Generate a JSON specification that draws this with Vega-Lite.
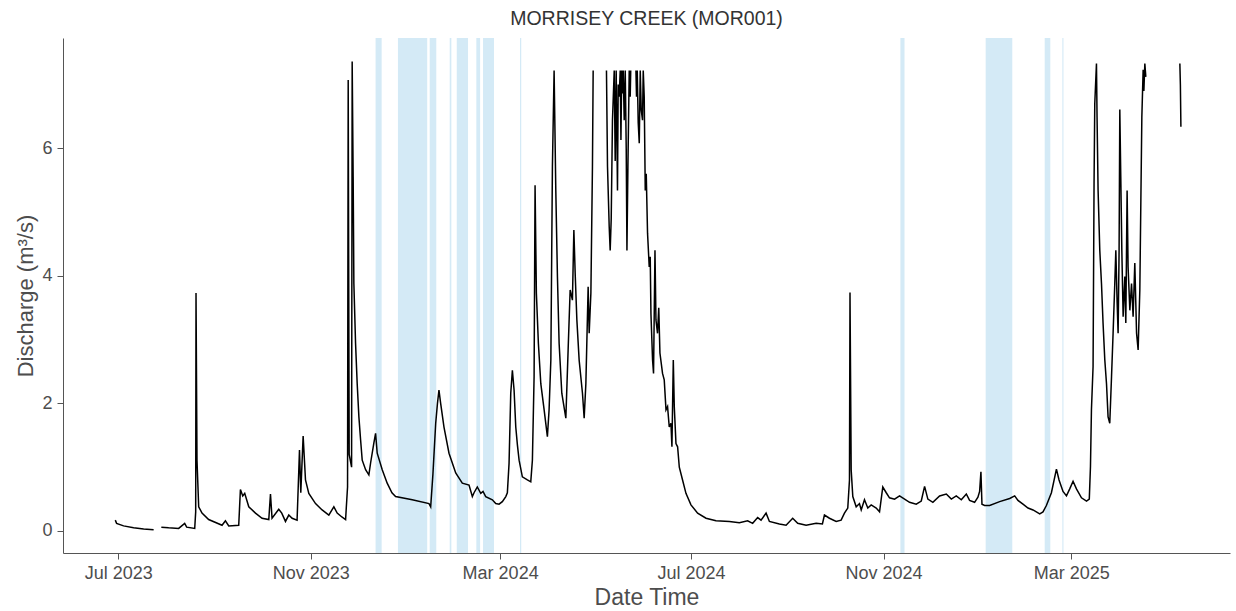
{
  "$schema": "https://vega.github.io/schema/vega-lite/v6.json",
  "width": 1167,
  "height": 515,
  "autosize": {"type": "none"},
  "padding": {"left": 63, "top": 38, "right": 6, "bottom": 58},
  "background": "white",
  "title": {"text": "MORRISEY CREEK (MOR001)", "font": "Liberation Sans", "fontSize": 19.5, "fontWeight": "normal", "color": "#333333", "anchor": "middle", "offset": 9},
  "config": {
    "view": {"stroke": null},
    "axis": {"grid": false, "domainColor": "#555555", "tickColor": "#555555", "labelColor": "#4d4d4d", "titleColor": "#4d4d4d", "labelFont": "Liberation Sans", "titleFont": "Liberation Sans", "labelFontSize": 18, "titleFontSize": 22, "titleFontWeight": "normal", "tickSize": 6, "domainWidth": 1, "tickWidth": 1, "labelPadding": 5, "titlePadding": 4},
    "axisX": {"titleFontSize": 23}
  },
  "datasets": {
    "bands": [
      {"start": "2023-12-12T10:00", "end": "2023-12-16T07:00"},
      {"start": "2023-12-26T17:00", "end": "2024-01-14T10:00"},
      {"start": "2024-01-16T00:00", "end": "2024-01-20T05:00"},
      {"start": "2024-01-28T19:00", "end": "2024-01-29T20:00"},
      {"start": "2024-02-02T07:00", "end": "2024-02-09T12:00"},
      {"start": "2024-02-14T19:00", "end": "2024-02-17T05:00"},
      {"start": "2024-02-19T02:00", "end": "2024-02-26T02:00"},
      {"start": "2024-03-13T17:00", "end": "2024-03-14T12:00"},
      {"start": "2024-11-11T19:00", "end": "2024-11-14T10:00"},
      {"start": "2025-01-05T07:00", "end": "2025-01-22T07:00"},
      {"start": "2025-02-12T00:00", "end": "2025-02-15T14:00"},
      {"start": "2025-02-23T07:00", "end": "2025-02-24T00:00"}
    ],
    "flow": [
      {"t": "2023-06-29T02:00", "q": 0.17, "s": 1},
      {"t": "2023-06-29T22:00", "q": 0.12, "s": 1},
      {"t": "2023-07-04T09:00", "q": 0.08, "s": 1},
      {"t": "2023-07-10T19:00", "q": 0.05, "s": 1},
      {"t": "2023-07-17T05:00", "q": 0.03, "s": 1},
      {"t": "2023-07-23T14:00", "q": 0.02, "s": 1},
      {"t": "2023-07-28T12:00", "q": 0.06, "s": 2},
      {"t": "2023-08-02T04:00", "q": 0.05, "s": 2},
      {"t": "2023-08-08T14:00", "q": 0.04, "s": 2},
      {"t": "2023-08-12T10:00", "q": 0.12, "s": 2},
      {"t": "2023-08-13T17:00", "q": 0.06, "s": 2},
      {"t": "2023-08-18T20:00", "q": 0.04, "s": 2},
      {"t": "2023-08-19T11:00", "q": 0.3, "s": 2},
      {"t": "2023-08-19T16:00", "q": 3.73, "s": 2},
      {"t": "2023-08-20T07:00", "q": 1.11, "s": 2},
      {"t": "2023-08-21T09:00", "q": 0.38, "s": 2},
      {"t": "2023-08-23T12:00", "q": 0.28, "s": 2},
      {"t": "2023-08-27T18:00", "q": 0.18, "s": 2},
      {"t": "2023-09-05T07:00", "q": 0.09, "s": 2},
      {"t": "2023-09-07T11:00", "q": 0.16, "s": 2},
      {"t": "2023-09-09T14:00", "q": 0.08, "s": 2},
      {"t": "2023-09-15T23:00", "q": 0.09, "s": 2},
      {"t": "2023-09-17T01:00", "q": 0.65, "s": 2},
      {"t": "2023-09-18T13:00", "q": 0.55, "s": 2},
      {"t": "2023-09-19T19:00", "q": 0.59, "s": 2},
      {"t": "2023-09-22T09:00", "q": 0.38, "s": 2},
      {"t": "2023-09-26T16:00", "q": 0.28, "s": 2},
      {"t": "2023-09-30T21:00", "q": 0.2, "s": 2},
      {"t": "2023-10-05T04:00", "q": 0.18, "s": 2},
      {"t": "2023-10-06T06:00", "q": 0.58, "s": 2},
      {"t": "2023-10-07T06:00", "q": 0.2, "s": 2},
      {"t": "2023-10-11T13:00", "q": 0.34, "s": 2},
      {"t": "2023-10-13T11:00", "q": 0.28, "s": 2},
      {"t": "2023-10-15T20:00", "q": 0.15, "s": 2},
      {"t": "2023-10-17T23:00", "q": 0.25, "s": 2},
      {"t": "2023-10-20T02:00", "q": 0.2, "s": 2},
      {"t": "2023-10-23T06:00", "q": 0.17, "s": 2},
      {"t": "2023-10-24T19:00", "q": 1.27, "s": 2},
      {"t": "2023-10-25T15:00", "q": 0.6, "s": 2},
      {"t": "2023-10-27T03:00", "q": 1.49, "s": 2},
      {"t": "2023-10-28T15:00", "q": 0.8, "s": 2},
      {"t": "2023-10-30T18:00", "q": 0.59, "s": 2},
      {"t": "2023-11-04T01:00", "q": 0.43, "s": 2},
      {"t": "2023-11-08T06:00", "q": 0.33, "s": 2},
      {"t": "2023-11-12T13:00", "q": 0.25, "s": 2},
      {"t": "2023-11-15T18:00", "q": 0.38, "s": 2},
      {"t": "2023-11-17T21:00", "q": 0.28, "s": 2},
      {"t": "2023-11-20T21:00", "q": 0.22, "s": 2},
      {"t": "2023-11-23T06:00", "q": 0.18, "s": 2},
      {"t": "2023-11-24T12:00", "q": 0.69, "s": 2},
      {"t": "2023-11-24T22:00", "q": 7.07, "s": 2},
      {"t": "2023-11-25T13:00", "q": 1.2, "s": 2},
      {"t": "2023-11-27T02:00", "q": 1.0, "s": 2},
      {"t": "2023-11-27T11:00", "q": 7.36, "s": 2},
      {"t": "2023-11-28T02:00", "q": 5.55, "s": 2},
      {"t": "2023-11-28T13:00", "q": 3.88, "s": 2},
      {"t": "2023-11-29T15:00", "q": 2.94, "s": 2},
      {"t": "2023-11-30T16:00", "q": 2.31, "s": 2},
      {"t": "2023-12-01T18:00", "q": 1.79, "s": 2},
      {"t": "2023-12-02T20:00", "q": 1.43, "s": 2},
      {"t": "2023-12-03T21:00", "q": 1.11, "s": 2},
      {"t": "2023-12-06T01:00", "q": 0.96, "s": 2},
      {"t": "2023-12-08T03:00", "q": 0.88, "s": 2},
      {"t": "2023-12-09T06:00", "q": 1.07, "s": 2},
      {"t": "2023-12-11T08:00", "q": 1.38, "s": 2},
      {"t": "2023-12-12T10:00", "q": 1.53, "s": 2},
      {"t": "2023-12-13T11:00", "q": 1.22, "s": 2},
      {"t": "2023-12-16T16:00", "q": 0.96, "s": 2},
      {"t": "2023-12-19T20:00", "q": 0.75, "s": 2},
      {"t": "2023-12-22T21:00", "q": 0.6, "s": 2},
      {"t": "2023-12-25T05:00", "q": 0.54, "s": 2},
      {"t": "2024-01-04T20:00", "q": 0.49, "s": 2},
      {"t": "2024-01-15T13:00", "q": 0.43, "s": 2},
      {"t": "2024-01-16T15:00", "q": 0.38, "s": 2},
      {"t": "2024-01-18T02:00", "q": 0.9, "s": 2},
      {"t": "2024-01-19T20:00", "q": 1.69, "s": 2},
      {"t": "2024-01-20T23:00", "q": 2.0, "s": 2},
      {"t": "2024-01-21T22:00", "q": 2.21, "s": 2},
      {"t": "2024-01-23T00:00", "q": 2.0, "s": 2},
      {"t": "2024-01-25T03:00", "q": 1.63, "s": 2},
      {"t": "2024-01-28T08:00", "q": 1.22, "s": 2},
      {"t": "2024-02-01T15:00", "q": 0.91, "s": 2},
      {"t": "2024-02-05T20:00", "q": 0.75, "s": 2},
      {"t": "2024-02-10T03:00", "q": 0.72, "s": 2},
      {"t": "2024-02-12T06:00", "q": 0.54, "s": 2},
      {"t": "2024-02-13T08:00", "q": 0.6, "s": 2},
      {"t": "2024-02-15T10:00", "q": 0.69, "s": 2},
      {"t": "2024-02-17T15:00", "q": 0.59, "s": 2},
      {"t": "2024-02-19T02:00", "q": 0.62, "s": 2},
      {"t": "2024-02-20T19:00", "q": 0.54, "s": 2},
      {"t": "2024-02-25T01:00", "q": 0.49, "s": 2},
      {"t": "2024-02-27T05:00", "q": 0.43, "s": 2},
      {"t": "2024-02-29T08:00", "q": 0.42, "s": 2},
      {"t": "2024-03-02T10:00", "q": 0.46, "s": 2},
      {"t": "2024-03-04T15:00", "q": 0.54, "s": 2},
      {"t": "2024-03-05T15:00", "q": 0.6, "s": 2},
      {"t": "2024-03-06T17:00", "q": 1.06, "s": 2},
      {"t": "2024-03-07T19:00", "q": 2.16, "s": 2},
      {"t": "2024-03-08T20:00", "q": 2.52, "s": 2},
      {"t": "2024-03-09T22:00", "q": 2.21, "s": 2},
      {"t": "2024-03-11T00:00", "q": 1.63, "s": 2},
      {"t": "2024-03-12T01:00", "q": 1.35, "s": 2},
      {"t": "2024-03-13T03:00", "q": 1.11, "s": 2},
      {"t": "2024-03-15T05:00", "q": 0.85, "s": 2},
      {"t": "2024-03-18T10:00", "q": 0.8, "s": 2},
      {"t": "2024-03-20T14:00", "q": 0.77, "s": 2},
      {"t": "2024-03-21T15:00", "q": 1.11, "s": 2},
      {"t": "2024-03-22T17:00", "q": 2.42, "s": 2},
      {"t": "2024-03-23T08:00", "q": 5.42, "s": 2},
      {"t": "2024-03-24T04:00", "q": 3.73, "s": 2},
      {"t": "2024-03-25T11:00", "q": 2.94, "s": 2},
      {"t": "2024-03-27T00:00", "q": 2.31, "s": 2},
      {"t": "2024-03-29T03:00", "q": 1.9, "s": 2},
      {"t": "2024-03-31T05:00", "q": 1.48, "s": 2},
      {"t": "2024-04-01T07:00", "q": 1.9, "s": 2},
      {"t": "2024-04-02T10:00", "q": 2.68, "s": 2},
      {"t": "2024-04-03T10:00", "q": 5.71, "s": 2},
      {"t": "2024-04-04T12:00", "q": 7.22, "s": 2},
      {"t": "2024-04-05T14:00", "q": 5.34, "s": 2},
      {"t": "2024-04-06T15:00", "q": 3.99, "s": 2},
      {"t": "2024-04-07T17:00", "q": 2.94, "s": 2},
      {"t": "2024-04-09T10:00", "q": 2.16, "s": 2},
      {"t": "2024-04-12T00:00", "q": 1.77, "s": 2},
      {"t": "2024-04-13T11:00", "q": 2.84, "s": 2},
      {"t": "2024-04-14T18:00", "q": 3.78, "s": 2},
      {"t": "2024-04-16T05:00", "q": 3.62, "s": 2},
      {"t": "2024-04-17T03:00", "q": 4.72, "s": 2},
      {"t": "2024-04-17T23:00", "q": 4.04, "s": 2},
      {"t": "2024-04-19T01:00", "q": 3.31, "s": 2},
      {"t": "2024-04-20T12:00", "q": 2.68, "s": 2},
      {"t": "2024-04-22T15:00", "q": 2.16, "s": 2},
      {"t": "2024-04-23T17:00", "q": 1.77, "s": 2},
      {"t": "2024-04-24T19:00", "q": 2.31, "s": 2},
      {"t": "2024-04-26T06:00", "q": 3.83, "s": 2},
      {"t": "2024-04-26T22:00", "q": 3.1, "s": 2},
      {"t": "2024-04-28T00:00", "q": 3.73, "s": 2},
      {"t": "2024-04-29T00:00", "q": 5.71, "s": 2},
      {"t": "2024-04-29T11:00", "q": 7.22, "s": 2},
      {"t": "2024-05-07T23:00", "q": 7.22, "s": 3},
      {"t": "2024-05-08T15:00", "q": 5.71, "s": 3},
      {"t": "2024-05-09T17:00", "q": 4.77, "s": 3},
      {"t": "2024-05-10T08:00", "q": 4.4, "s": 3},
      {"t": "2024-05-11T00:00", "q": 4.9, "s": 3},
      {"t": "2024-05-11T19:00", "q": 6.44, "s": 3},
      {"t": "2024-05-12T22:00", "q": 7.22, "s": 3},
      {"t": "2024-05-13T13:00", "q": 5.8, "s": 3},
      {"t": "2024-05-14T04:00", "q": 7.22, "s": 3},
      {"t": "2024-05-15T00:00", "q": 5.34, "s": 3},
      {"t": "2024-05-15T11:00", "q": 7.0, "s": 3},
      {"t": "2024-05-16T02:00", "q": 6.81, "s": 3},
      {"t": "2024-05-16T18:00", "q": 7.22, "s": 3},
      {"t": "2024-05-17T05:00", "q": 6.13, "s": 3},
      {"t": "2024-05-17T17:00", "q": 7.22, "s": 3},
      {"t": "2024-05-18T05:00", "q": 6.86, "s": 3},
      {"t": "2024-05-18T16:00", "q": 7.22, "s": 3},
      {"t": "2024-05-19T07:00", "q": 6.44, "s": 3},
      {"t": "2024-05-19T23:00", "q": 7.22, "s": 3},
      {"t": "2024-05-20T14:00", "q": 6.0, "s": 3},
      {"t": "2024-05-21T01:00", "q": 4.4, "s": 3},
      {"t": "2024-05-21T16:00", "q": 5.71, "s": 3},
      {"t": "2024-05-22T12:00", "q": 7.22, "s": 3},
      {"t": "2024-05-23T03:00", "q": 6.81, "s": 3},
      {"t": "2024-05-23T11:00", "q": 7.22, "s": 3},
      {"t": "2024-05-26T19:00", "q": 7.22, "s": 4},
      {"t": "2024-05-27T04:00", "q": 6.81, "s": 4},
      {"t": "2024-05-27T15:00", "q": 7.22, "s": 4},
      {"t": "2024-05-28T06:00", "q": 6.4, "s": 4},
      {"t": "2024-05-28T22:00", "q": 6.08, "s": 4},
      {"t": "2024-05-29T13:00", "q": 7.22, "s": 4},
      {"t": "2024-05-30T04:00", "q": 6.6, "s": 4},
      {"t": "2024-05-31T00:00", "q": 6.44, "s": 4},
      {"t": "2024-05-31T11:00", "q": 7.22, "s": 4},
      {"t": "2024-06-01T02:00", "q": 6.81, "s": 4},
      {"t": "2024-06-01T18:00", "q": 5.34, "s": 4},
      {"t": "2024-06-02T09:00", "q": 5.6, "s": 4},
      {"t": "2024-06-03T05:00", "q": 4.67, "s": 4},
      {"t": "2024-06-04T07:00", "q": 4.14, "s": 4},
      {"t": "2024-06-04T22:00", "q": 4.3, "s": 4},
      {"t": "2024-06-05T09:00", "q": 3.41, "s": 4},
      {"t": "2024-06-06T10:00", "q": 2.68, "s": 4},
      {"t": "2024-06-07T01:00", "q": 2.47, "s": 4},
      {"t": "2024-06-07T23:00", "q": 4.4, "s": 4},
      {"t": "2024-06-08T14:00", "q": 3.31, "s": 4},
      {"t": "2024-06-09T14:00", "q": 3.1, "s": 4},
      {"t": "2024-06-10T09:00", "q": 3.5, "s": 4},
      {"t": "2024-06-11T03:00", "q": 2.79, "s": 4},
      {"t": "2024-06-12T19:00", "q": 2.47, "s": 4},
      {"t": "2024-06-13T21:00", "q": 2.37, "s": 4},
      {"t": "2024-06-15T00:00", "q": 1.9, "s": 4},
      {"t": "2024-06-16T00:00", "q": 1.95, "s": 4},
      {"t": "2024-06-17T02:00", "q": 1.63, "s": 4},
      {"t": "2024-06-18T04:00", "q": 1.69, "s": 4},
      {"t": "2024-06-18T19:00", "q": 1.32, "s": 4},
      {"t": "2024-06-19T16:00", "q": 2.68, "s": 4},
      {"t": "2024-06-20T07:00", "q": 1.95, "s": 4},
      {"t": "2024-06-21T09:00", "q": 1.37, "s": 4},
      {"t": "2024-06-22T10:00", "q": 1.32, "s": 4},
      {"t": "2024-06-23T12:00", "q": 1.0, "s": 4},
      {"t": "2024-06-25T14:00", "q": 0.8, "s": 4},
      {"t": "2024-06-27T18:00", "q": 0.59, "s": 4},
      {"t": "2024-06-30T23:00", "q": 0.41, "s": 4},
      {"t": "2024-07-05T05:00", "q": 0.28, "s": 4},
      {"t": "2024-07-10T14:00", "q": 0.2, "s": 4},
      {"t": "2024-07-16T23:00", "q": 0.16, "s": 4},
      {"t": "2024-07-25T12:00", "q": 0.15, "s": 4},
      {"t": "2024-07-31T21:00", "q": 0.13, "s": 4},
      {"t": "2024-08-06T04:00", "q": 0.16, "s": 4},
      {"t": "2024-08-09T09:00", "q": 0.12, "s": 4},
      {"t": "2024-08-12T14:00", "q": 0.21, "s": 4},
      {"t": "2024-08-14T18:00", "q": 0.17, "s": 4},
      {"t": "2024-08-17T23:00", "q": 0.28, "s": 4},
      {"t": "2024-08-20T02:00", "q": 0.15, "s": 4},
      {"t": "2024-08-26T11:00", "q": 0.11, "s": 4},
      {"t": "2024-08-30T18:00", "q": 0.09, "s": 4},
      {"t": "2024-09-03T23:00", "q": 0.2, "s": 4},
      {"t": "2024-09-07T04:00", "q": 0.12, "s": 4},
      {"t": "2024-09-12T13:00", "q": 0.09, "s": 4},
      {"t": "2024-09-18T23:00", "q": 0.12, "s": 4},
      {"t": "2024-09-22T23:00", "q": 0.11, "s": 4},
      {"t": "2024-09-24T06:00", "q": 0.25, "s": 4},
      {"t": "2024-09-27T11:00", "q": 0.2, "s": 4},
      {"t": "2024-10-01T18:00", "q": 0.15, "s": 4},
      {"t": "2024-10-04T22:00", "q": 0.17, "s": 4},
      {"t": "2024-10-07T01:00", "q": 0.28, "s": 4},
      {"t": "2024-10-09T04:00", "q": 0.36, "s": 4},
      {"t": "2024-10-10T06:00", "q": 0.8, "s": 4},
      {"t": "2024-10-10T14:00", "q": 3.74, "s": 4},
      {"t": "2024-10-11T08:00", "q": 0.96, "s": 4},
      {"t": "2024-10-12T09:00", "q": 0.54, "s": 4},
      {"t": "2024-10-14T13:00", "q": 0.38, "s": 4},
      {"t": "2024-10-16T15:00", "q": 0.43, "s": 4},
      {"t": "2024-10-17T18:00", "q": 0.33, "s": 4},
      {"t": "2024-10-19T20:00", "q": 0.49, "s": 4},
      {"t": "2024-10-21T23:00", "q": 0.36, "s": 4},
      {"t": "2024-10-24T03:00", "q": 0.41, "s": 4},
      {"t": "2024-10-27T08:00", "q": 0.36, "s": 4},
      {"t": "2024-10-29T11:00", "q": 0.3, "s": 4},
      {"t": "2024-10-31T13:00", "q": 0.69, "s": 4},
      {"t": "2024-11-02T18:00", "q": 0.6, "s": 4},
      {"t": "2024-11-04T20:00", "q": 0.52, "s": 4},
      {"t": "2024-11-08T01:00", "q": 0.5, "s": 4},
      {"t": "2024-11-11T06:00", "q": 0.55, "s": 4},
      {"t": "2024-11-14T11:00", "q": 0.5, "s": 4},
      {"t": "2024-11-17T15:00", "q": 0.45, "s": 4},
      {"t": "2024-11-21T22:00", "q": 0.42, "s": 4},
      {"t": "2024-11-25T03:00", "q": 0.47, "s": 4},
      {"t": "2024-11-27T06:00", "q": 0.7, "s": 4},
      {"t": "2024-11-29T08:00", "q": 0.5, "s": 4},
      {"t": "2024-12-02T13:00", "q": 0.45, "s": 4},
      {"t": "2024-12-06T20:00", "q": 0.55, "s": 4},
      {"t": "2024-12-11T03:00", "q": 0.58, "s": 4},
      {"t": "2024-12-14T08:00", "q": 0.5, "s": 4},
      {"t": "2024-12-17T12:00", "q": 0.55, "s": 4},
      {"t": "2024-12-20T17:00", "q": 0.49, "s": 4},
      {"t": "2024-12-23T22:00", "q": 0.58, "s": 4},
      {"t": "2024-12-26T00:00", "q": 0.48, "s": 4},
      {"t": "2024-12-29T05:00", "q": 0.45, "s": 4},
      {"t": "2024-12-31T08:00", "q": 0.53, "s": 4},
      {"t": "2025-01-01T10:00", "q": 0.62, "s": 4},
      {"t": "2025-01-02T06:00", "q": 0.93, "s": 4},
      {"t": "2025-01-02T22:00", "q": 0.42, "s": 4},
      {"t": "2025-01-04T15:00", "q": 0.4, "s": 4},
      {"t": "2025-01-07T20:00", "q": 0.4, "s": 4},
      {"t": "2025-01-14T05:00", "q": 0.46, "s": 4},
      {"t": "2025-01-20T15:00", "q": 0.51, "s": 4},
      {"t": "2025-01-23T20:00", "q": 0.55, "s": 4},
      {"t": "2025-01-25T22:00", "q": 0.48, "s": 4},
      {"t": "2025-01-29T03:00", "q": 0.42, "s": 4},
      {"t": "2025-02-01T08:00", "q": 0.36, "s": 4},
      {"t": "2025-02-04T13:00", "q": 0.33, "s": 4},
      {"t": "2025-02-08T20:00", "q": 0.27, "s": 4},
      {"t": "2025-02-10T22:00", "q": 0.3, "s": 4},
      {"t": "2025-02-13T02:00", "q": 0.4, "s": 4},
      {"t": "2025-02-16T07:00", "q": 0.6, "s": 4},
      {"t": "2025-02-19T12:00", "q": 0.97, "s": 4},
      {"t": "2025-02-21T04:00", "q": 0.8, "s": 4},
      {"t": "2025-02-23T17:00", "q": 0.62, "s": 4},
      {"t": "2025-02-25T22:00", "q": 0.55, "s": 4},
      {"t": "2025-02-28T00:00", "q": 0.66, "s": 4},
      {"t": "2025-03-02T03:00", "q": 0.78, "s": 4},
      {"t": "2025-03-04T07:00", "q": 0.66, "s": 4},
      {"t": "2025-03-07T12:00", "q": 0.52, "s": 4},
      {"t": "2025-03-10T17:00", "q": 0.47, "s": 4},
      {"t": "2025-03-12T12:00", "q": 0.5, "s": 4},
      {"t": "2025-03-13T06:00", "q": 1.01, "s": 4},
      {"t": "2025-03-13T21:00", "q": 1.9, "s": 4},
      {"t": "2025-03-14T22:00", "q": 2.58, "s": 4},
      {"t": "2025-03-15T13:00", "q": 5.45, "s": 4},
      {"t": "2025-03-16T00:00", "q": 6.7, "s": 4},
      {"t": "2025-03-17T02:00", "q": 7.33, "s": 4},
      {"t": "2025-03-17T11:00", "q": 6.49, "s": 4},
      {"t": "2025-03-18T03:00", "q": 5.34, "s": 4},
      {"t": "2025-03-19T05:00", "q": 4.4, "s": 4},
      {"t": "2025-03-20T07:00", "q": 3.88, "s": 4},
      {"t": "2025-03-21T07:00", "q": 3.26, "s": 4},
      {"t": "2025-03-22T10:00", "q": 2.68, "s": 4},
      {"t": "2025-03-23T12:00", "q": 2.31, "s": 4},
      {"t": "2025-03-24T12:00", "q": 1.79, "s": 4},
      {"t": "2025-03-25T14:00", "q": 1.69, "s": 4},
      {"t": "2025-03-26T17:00", "q": 2.42, "s": 4},
      {"t": "2025-03-27T17:00", "q": 3.1, "s": 4},
      {"t": "2025-03-28T19:00", "q": 3.88, "s": 4},
      {"t": "2025-03-29T11:00", "q": 4.4, "s": 4},
      {"t": "2025-03-30T06:00", "q": 3.62, "s": 4},
      {"t": "2025-03-30T22:00", "q": 3.1, "s": 4},
      {"t": "2025-03-31T13:00", "q": 4.4, "s": 4},
      {"t": "2025-04-01T00:00", "q": 6.61, "s": 4},
      {"t": "2025-04-01T15:00", "q": 5.55, "s": 4},
      {"t": "2025-04-02T07:00", "q": 4.4, "s": 4},
      {"t": "2025-04-03T03:00", "q": 3.36, "s": 4},
      {"t": "2025-04-04T05:00", "q": 3.99, "s": 4},
      {"t": "2025-04-04T20:00", "q": 3.26, "s": 4},
      {"t": "2025-04-05T16:00", "q": 5.34, "s": 4},
      {"t": "2025-04-06T07:00", "q": 4.14, "s": 4},
      {"t": "2025-04-07T10:00", "q": 3.46, "s": 4},
      {"t": "2025-04-08T12:00", "q": 3.88, "s": 4},
      {"t": "2025-04-09T12:00", "q": 3.36, "s": 4},
      {"t": "2025-04-10T14:00", "q": 4.2, "s": 4},
      {"t": "2025-04-11T17:00", "q": 3.1, "s": 4},
      {"t": "2025-04-12T17:00", "q": 2.84, "s": 4},
      {"t": "2025-04-13T19:00", "q": 3.78, "s": 4},
      {"t": "2025-04-14T11:00", "q": 5.19, "s": 4},
      {"t": "2025-04-15T02:00", "q": 6.49, "s": 4},
      {"t": "2025-04-15T22:00", "q": 7.23, "s": 4},
      {"t": "2025-04-16T09:00", "q": 6.9, "s": 4},
      {"t": "2025-04-17T00:00", "q": 7.33, "s": 4},
      {"t": "2025-04-17T15:00", "q": 7.12, "s": 4},
      {"t": "2025-05-09T09:00", "q": 7.33, "s": 5},
      {"t": "2025-05-09T17:00", "q": 7.0, "s": 5},
      {"t": "2025-05-10T01:00", "q": 6.34, "s": 5}
    ]
  },
  "layer": [
    {
      "data": {"name": "bands"},
      "mark": {"type": "rect", "color": "#d4eaf6"},
      "encoding": {
        "x": {"field": "start", "type": "temporal", "title": "Date Time",
              "scale": {"domain": [{"year": 2023, "month": 5, "date": 26, "hours": 16}, {"year": 2025, "month": 6, "date": 10, "hours": 10}]},
              "axis": {"values": [{"year": 2023, "month": 7, "date": 1}, {"year": 2023, "month": 11, "date": 1}, {"year": 2024, "month": 3, "date": 1}, {"year": 2024, "month": 7, "date": 1}, {"year": 2024, "month": 11, "date": 1}, {"year": 2025, "month": 3, "date": 1}], "format": "%b %Y"}},
        "x2": {"field": "end"}
      }
    },
    {
      "data": {"name": "flow"},
      "mark": {"type": "line", "color": "black", "strokeWidth": 1.5},
      "encoding": {
        "x": {"field": "t", "type": "temporal", "title": "Date Time",
              "scale": {"domain": [{"year": 2023, "month": 5, "date": 26, "hours": 16}, {"year": 2025, "month": 6, "date": 10, "hours": 10}]}},
        "y": {"field": "q", "type": "quantitative", "title": "Discharge (m³/s)",
              "scale": {"domain": [-0.345, 7.73], "nice": false, "zero": false},
              "axis": {"values": [0, 2, 4, 6]}},
        "detail": {"field": "s", "type": "nominal"}
      }
    }
  ]
}
